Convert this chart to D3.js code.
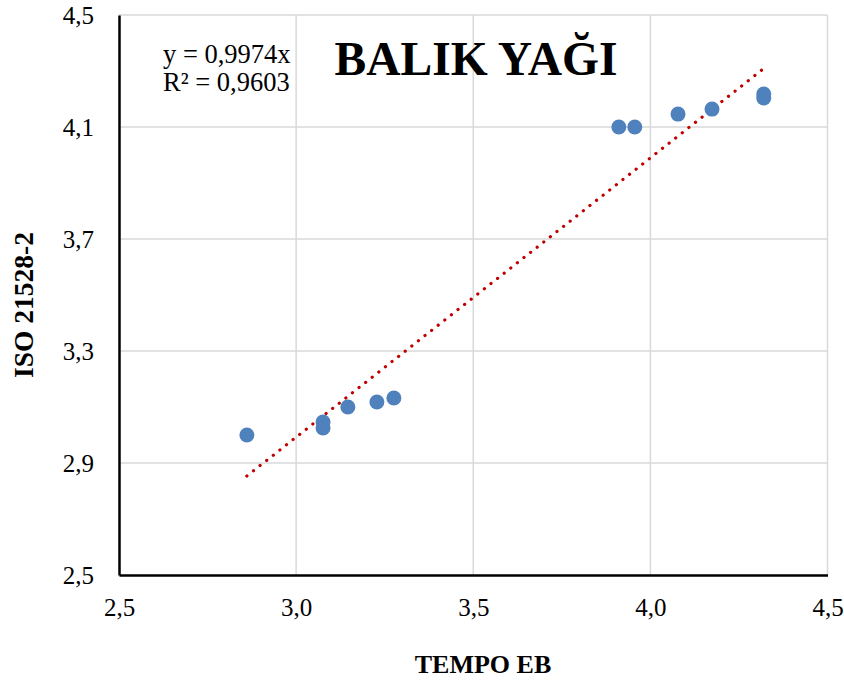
<!DOCTYPE html>
<html>
<head>
<meta charset="utf-8">
<script src="https://cdn.jsdelivr.net/npm/d3@7"></script>
<style>
  body { margin: 0; background: #fff; }
  text { font-family: "Liberation Serif", "Times New Roman", serif; fill: #000; }
</style>
</head>
<body>
<svg id="chart" width="844" height="682"></svg>
<script>
// data
const tempoEB = [2.861, 3.076, 3.076, 3.146, 3.228, 3.276, 3.911, 3.956, 4.078, 4.174, 4.320, 4.320];
const iso21528 = [3.000, 3.046, 3.025, 3.100, 3.118, 3.132, 4.100, 4.100, 4.146, 4.164, 4.218, 4.204];
const xTicks = [2.5, 3.0, 3.5, 4.0, 4.5];
const yTicks = [2.5, 2.9, 3.3, 3.7, 4.1, 4.5];
const slope = 0.9974;
const equation = ["y = 0,9974x", "R² = 0,9603"];
const title = "BALIK YAĞI";

const svg = d3.select("#chart");
const margin = { left: 119, right: 16, top: 15, bottom: 107 };
const width = 844, height = 682;

const x = d3.scaleLinear().domain([2.5, 4.5]).range([margin.left, width - margin.right - 0.5]);
const y = d3.scaleLinear().domain([2.5, 4.5]).range([height - margin.bottom, margin.top]);
const fmt = d => d3.format(".1f")(d).replace(".", ",");

// gridlines
svg.append("g")
  .selectAll("line")
  .data(xTicks.slice(1))
  .join("line")
  .attr("x1", d => x(d)).attr("x2", d => x(d))
  .attr("y1", y(2.5)).attr("y2", y(4.5))
  .attr("stroke", "#d9d9d9").attr("stroke-width", 1.5);

svg.append("g")
  .selectAll("line")
  .data(yTicks.slice(1))
  .join("line")
  .attr("x1", x(2.5)).attr("x2", x(4.5))
  .attr("y1", d => y(d)).attr("y2", d => y(d))
  .attr("stroke", "#d9d9d9").attr("stroke-width", 1.5);

// axes
const xAxis = svg.append("g")
  .attr("transform", `translate(0,${y(2.5)})`)
  .call(d3.axisBottom(x).tickValues(xTicks).tickFormat(fmt).tickSize(0).tickPadding(23));
xAxis.select(".domain").attr("stroke", "#000").attr("stroke-width", 2.5);
xAxis.selectAll("text").style("font-size", "25px").style("font-family", "Liberation Serif");

const yAxis = svg.append("g")
  .attr("transform", `translate(${x(2.5)},0)`)
  .call(d3.axisLeft(y).tickValues(yTicks).tickFormat(fmt).tickSize(0).tickPadding(25));
yAxis.select(".domain").attr("stroke", "#000").attr("stroke-width", 2.5);
yAxis.selectAll("text").style("font-size", "25px").style("font-family", "Liberation Serif");

// trendline (through origin), drawn across the data range
const xExt = d3.extent(tempoEB);
svg.append("line")
  .attr("x1", x(xExt[0])).attr("y1", y(slope * xExt[0]))
  .attr("x2", x(xExt[1])).attr("y2", y(slope * xExt[1]))
  .attr("stroke", "#c00000")
  .attr("stroke-width", 3.2)
  .attr("stroke-linecap", "round")
  .attr("stroke-dasharray", "0.1 8.3");

// points
svg.append("g")
  .selectAll("circle")
  .data(tempoEB.map((d, i) => [d, iso21528[i]]))
  .join("circle")
  .attr("cx", d => x(d[0]))
  .attr("cy", d => y(d[1]))
  .attr("r", 7.5)
  .attr("fill", "#4f81bd");

// equation
const eq = svg.append("text")
  .attr("x", 163).attr("y", 63)
  .style("font-size", "26.5px");
eq.selectAll("tspan")
  .data(equation)
  .join("tspan")
  .attr("x", 163)
  .attr("dy", (d, i) => i ? 28 : 0)
  .text(d => d);

// title
svg.append("text")
  .attr("x", 476).attr("y", 75)
  .attr("text-anchor", "middle")
  .style("font-size", "47.5px")
  .style("font-weight", "bold")
  .text(title);

// axis titles
svg.append("text")
  .attr("x", 483).attr("y", 673)
  .attr("text-anchor", "middle")
  .style("font-size", "26px")
  .style("font-weight", "bold")
  .text("TEMPO EB");

svg.append("text")
  .attr("transform", `translate(33,305) rotate(-90)`)
  .attr("text-anchor", "middle")
  .style("font-size", "27.5px")
  .style("font-weight", "bold")
  .text("ISO 21528-2");
</script>
</body>
</html>
